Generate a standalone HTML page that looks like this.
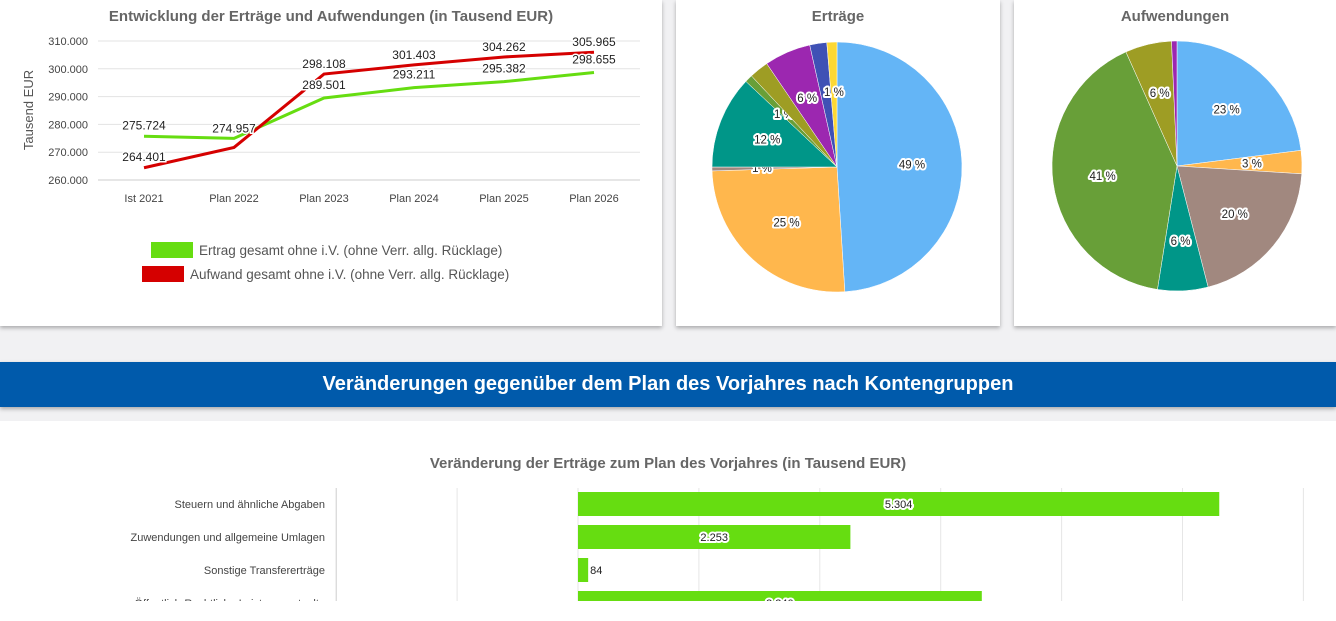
<!DOCTYPE html>
<html><head><meta charset="utf-8">
<style>
html,body{margin:0;padding:0;width:1336px;height:601px;overflow:hidden;background:#f1f1f3;font-family:"Liberation Sans",sans-serif;}
.card{position:absolute;background:#fff;box-shadow:0 2px 4px rgba(0,0,0,0.3);}
#banner{position:absolute;left:0;top:362px;width:1336px;height:45px;background:#005aab;color:#fff;font-weight:bold;font-size:20px;text-align:center;line-height:45px;box-shadow:0 2px 4px rgba(0,0,0,0.3);}
svg{position:absolute;left:0;top:0;}
</style></head><body>
<div class="card" style="left:0;top:0;width:662px;height:326px"></div>
<div class="card" style="left:676px;top:0;width:324px;height:326px"></div>
<div class="card" style="left:1014px;top:0;width:322px;height:326px"></div>
<div id="banner">Veränderungen gegenüber dem Plan des Vorjahres nach Kontengruppen</div>
<div class="card" style="left:0;top:421px;width:1336px;height:200px;box-shadow:none"></div>
<svg id="s" width="1336" height="601" xmlns="http://www.w3.org/2000/svg"></svg>
<script>
// ---- line chart data
const years = ["Ist 2021","Plan 2022","Plan 2023","Plan 2024","Plan 2025","Plan 2026"];
const ertrag = [275724,274957,289501,293211,295382,298655];
const aufwand = [264401,271700,298108,301403,304262,305965];
const ertragLabels = ["275.724","274.957","289.501","293.211","295.382","298.655"];
const aufwandLabels = ["264.401",null,"298.108","301.403","304.262","305.965"];
const yTicks = [260000,270000,280000,290000,300000,310000];
const yTickLabels = ["260.000","270.000","280.000","290.000","300.000","310.000"];
// ---- pies
const ertraegeShares = [49,25.5,0.5,12,1,2.5,6,2.2,1.3];
const ertraegeLabels = ["49 %","25 %","1 %","12 %","1 %","",  "6 %","","1 %"];
const ertraegeColors = ["#64b5f6","#ffb74d","#a1887f","#009688","#689f38","#9e9d24","#9c27b0","#3f51b5","#fdd835"];
const aufwShares = [23,3,20,6.5,40.8,6,0.7];
const aufwLabels = ["23 %","3 %","20 %","6 %","41 %","6 %",""];
const aufwColors = ["#64b5f6","#ffb74d","#a1887f","#009688","#689f38","#9e9d24","#9c27b0"];
// ---- bars
const barCats = ["Steuern und ähnliche Abgaben","Zuwendungen und allgemeine Umlagen","Sonstige Transfererträge","Öffentlich-Rechtliche Leistungsentgelte"];
const barVals = [5304,2253,84,3340];
const barLabels = ["5.304","2.253","84","3.340"];
const barTicks = [-2000,-1000,0,1000,2000,3000,4000,5000,6000];

const S=document.getElementById('s'),NS="http://www.w3.org/2000/svg";
function el(t,a,p){const e=document.createElementNS(NS,t);for(const k in a)e.setAttribute(k,a[k]);(p||S).appendChild(e);return e;}
function txt(x,y,s,a){const e=el('text',Object.assign({x:x,y:y,'font-family':'Liberation Sans, sans-serif'},a));e.textContent=s;return e;}

// line chart
const lx=i=>144+i*90, ly=v=>180-(v-260000)/50000*139;
let t=txt(331,21,"Entwicklung der Erträge und Aufwendungen  (in Tausend EUR)",{'font-size':15,'font-weight':'bold',fill:'#666','text-anchor':'middle'});


t=txt(33,110,"Tausend EUR",{'font-size':13,fill:'#555','text-anchor':'middle',transform:'rotate(-90 33 110)'});


yTicks.forEach((v,i)=>{
  const g=el('line',{x1:98,x2:640,y1:ly(v),y2:ly(v),stroke:i==0?'#ccc':'#e3e3e3'});
  
  
  const l=txt(88,ly(v)+4,yTickLabels[i],{'font-size':11,fill:'#444','text-anchor':'end'});
  
  
});
years.forEach((c,i)=>{
  const l=txt(lx(i),202,c,{'font-size':11,fill:'#444','text-anchor':'middle'});
  
  
});
[[ertrag,'#66dd11',ertragLabels,'ertrag'],[aufwand,'#d50000',aufwandLabels,'aufwand']].forEach(([d,c,lab,n])=>{
  const p=el('polyline',{points:d.map((v,i)=>lx(i)+','+ly(v)).join(' '),fill:'none',stroke:c,'stroke-width':3});
  
  
});
[[ertrag,ertragLabels],[aufwand,aufwandLabels]].forEach(([d,lab])=>{
  d.forEach((v,i)=>{ if(!lab[i])return;
    const up = (d===aufwand&&i>0)||(d===ertrag&&i==0)||(d===ertrag&&i==1);
    const y=ly(v)+(up?-6:(d===aufwand?-6:-8));
    let yy=y; if(d===ertrag&&i>=2) yy=ly(v)-9; if(d===ertrag&&i==0) yy=ly(v)-7;
    if(d===aufwand&&i==0) yy=ly(v)-7;
    const l=txt(lx(i),yy,lab[i],{'font-size':12,fill:'#222','text-anchor':'middle',stroke:'#fff','stroke-width':3,'paint-order':'stroke'});
    
    
  });
});
let r=el('rect',{x:151,y:242,width:42,height:16,fill:'#66dd11'});


t=txt(199,255,"Ertrag gesamt ohne i.V. (ohne Verr. allg. Rücklage)",{'font-size':13.5,fill:'#555'});


r=el('rect',{x:142,y:266,width:42,height:16,fill:'#d50000'});


t=txt(190,279,"Aufwand gesamt ohne i.V. (ohne Verr. allg. Rücklage)",{'font-size':13.5,fill:'#555'});



// pies
function pie(cx,cy,R,sh,labs,cols,title,tx,n){
  const tt=txt(tx,21,title,{'font-size':15,'font-weight':'bold',fill:'#666','text-anchor':'middle'});
  
  
  const tot=sh.reduce((a,b)=>a+b,0);let a0=0;
  sh.forEach((v,i)=>{
    const a1=a0+v/tot*2*Math.PI;
    const p=(a)=>[cx+R*Math.sin(a),cy-R*Math.cos(a)];
    const [x0,y0]=p(a0),[x1,y1]=p(a1);
    const s=el('path',{d:`M${cx},${cy}L${x0},${y0}A${R},${R} 0 ${a1-a0>Math.PI?1:0} 1 ${x1},${y1}Z`,fill:cols[i],stroke:'#fff','stroke-width':0.5});
    
    
    if(labs[i]){
      const am=(a0+a1)/2, rr=v<3?R*0.6:R*0.6;
      const l=txt(cx+rr*Math.sin(am),cy-rr*Math.cos(am)+4,labs[i],{'font-size':11.5,fill:'#222','text-anchor':'middle',stroke:'#fff','stroke-width':4,'paint-order':'stroke','stroke-linejoin':'round'});
      
      
    }
    a0=a1;
  });
}
pie(837,167,125,ertraegeShares,ertraegeLabels,ertraegeColors,"Erträge",838,'ertraege');
pie(1177,166,125,aufwShares,aufwLabels,aufwColors,"Aufwendungen",1175,'aufwendungen');

// bar chart
const bx=v=>578+v*0.1209;
t=txt(668,468,"Veränderung der Erträge zum Plan des Vorjahres (in Tausend EUR)",{'font-size':15,'font-weight':'bold',fill:'#666','text-anchor':'middle'});


barTicks.forEach(v=>{
  const g=el('line',{x1:bx(v),x2:bx(v),y1:488,y2:601,stroke:v==-2000?'#ccc':'#e6e6e6'});
  
  
});
barCats.forEach((c,i)=>{
  const y=504+i*33;
  const l=txt(325,y+4,c,{'font-size':11,fill:'#444','text-anchor':'end'});
  
  
  const v=barVals[i];
  const b=el('rect',{x:Math.min(bx(0),bx(v)),y:y-12,width:Math.abs(bx(v)-bx(0)),height:24,fill:'#66dd11'});
  
  
  const small=Math.abs(bx(v)-bx(0))<40;
  const vl=txt(small?bx(v)+2:(bx(0)+bx(v))/2,y+4,barLabels[i],{'font-size':11,fill:'#222','text-anchor':small?'start':'middle',stroke:'#fff','stroke-width':4,'paint-order':'stroke','stroke-linejoin':'round'});
  
  
});
</script>
</body></html>
